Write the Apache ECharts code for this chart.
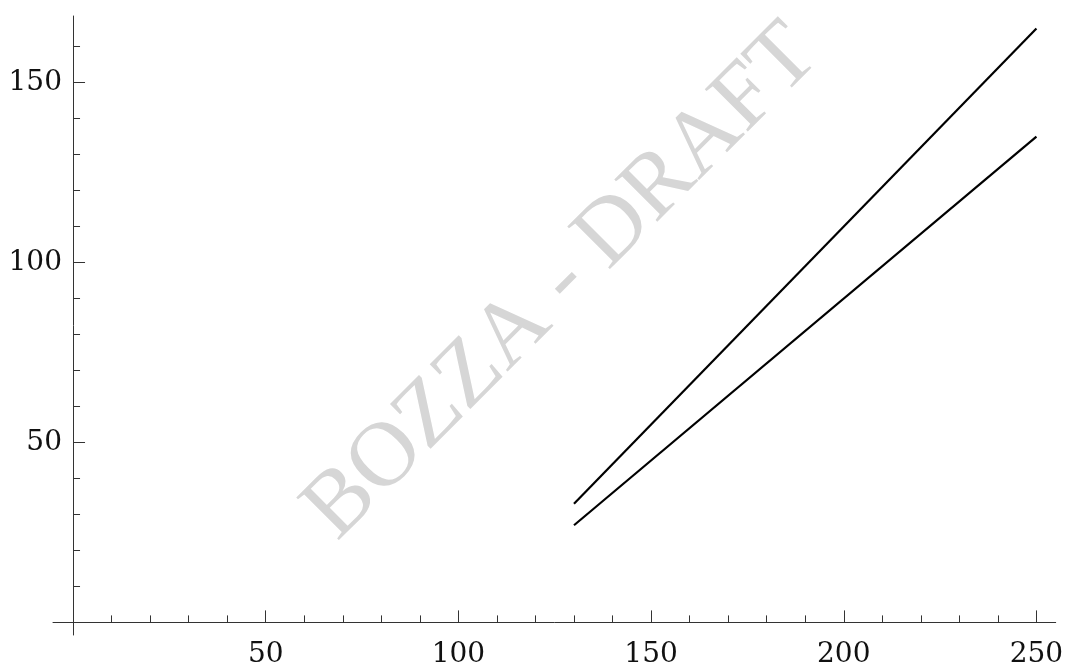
<!DOCTYPE html>
<html>
<head>
<meta charset="utf-8">
<script src="https://cdn.jsdelivr.net/npm/echarts@6/dist/echarts.min.js"></script>
<style>
html, body { margin: 0; padding: 0; background: #fff; }
#chart { width: 1065px; height: 665px; }
</style>
</head>
<body>
<div id="chart"></div>
<script>
// ---- data ----
const xValues = [130, 250];
const upperLine = [33, 165];
const lowerLine = [27, 135];

const xMajorTicks = [0, 50, 100, 150, 200, 250];
const xTickLabels = [50, 100, 150, 200, 250];
const xMinorTicks = [10, 20, 30, 40, 60, 70, 80, 90, 110, 120, 130, 140, 160, 170, 180, 190, 210, 220, 230, 240];

const yMajorTicks = [0, 50, 100, 150];
const yTickLabels = [50, 100, 150];
const yMinorTicks = [10, 20, 30, 40, 60, 70, 80, 90, 110, 120, 130, 140, 160];

const watermarkText = 'BOZZA - DRAFT';

// ---- chart ----
const axisColor = '#333';
const labelFont = { fontFamily: 'DejaVu Serif', fontSize: 28, color: '#111' };

function pairs(xs, ys) { return xs.map((x, i) => [x, ys[i]]); }

const chart = echarts.init(document.getElementById('chart'), null, { renderer: 'canvas' });

const baseX = {
  type: 'value', min: -5.2, max: 255, position: 'bottom',
  axisLine: { show: true, onZero: true, lineStyle: { color: axisColor, width: 1 } },
  splitLine: { show: false }
};
const baseY = {
  type: 'value', min: -3.5, max: 168.5, position: 'left',
  axisLine: { show: true, onZero: true, lineStyle: { color: axisColor, width: 1 } },
  splitLine: { show: false }
};

chart.setOption({
  animation: false,
  backgroundColor: '#fff',
  grid: { left: 53, right: 9.3, top: 16, bottom: 30, containLabel: false, outerBoundsMode: 'none' },
  xAxis: [
    Object.assign({}, baseX, {
      axisTick: { show: true, inside: true, length: 12, customValues: xMajorTicks, lineStyle: { color: axisColor } },
      axisLabel: Object.assign({ show: true, margin: 6, customValues: xTickLabels }, labelFont)
    }),
    Object.assign({}, baseX, {
      axisLine: { show: false, onZero: true },
      axisTick: { show: true, inside: true, length: 7, customValues: xMinorTicks, lineStyle: { color: axisColor } },
      axisLabel: { show: false }
    })
  ],
  yAxis: [
    Object.assign({}, baseY, {
      axisTick: { show: true, inside: true, length: 12, customValues: yMajorTicks, lineStyle: { color: axisColor } },
      axisLabel: Object.assign({ show: true, margin: -9, customValues: yTickLabels }, labelFont)
    }),
    Object.assign({}, baseY, {
      axisLine: { show: false, onZero: true },
      axisTick: { show: true, inside: true, length: 7, customValues: yMinorTicks, lineStyle: { color: axisColor } },
      axisLabel: { show: false }
    })
  ],
  graphic: [{
    type: 'text',
    x: 320, y: 525,
    rotation: Math.PI / 4,
    z: 0,
    silent: true,
    style: {
      text: watermarkText,
      fill: '#d6d6d6',
      font: '92px "Liberation Serif"',
      textAlign: 'left',
      textVerticalAlign: 'middle'
    }
  }],
  series: [
    {
      type: 'line', xAxisIndex: 0, yAxisIndex: 0, z: 5,
      data: pairs(xValues, upperLine), showSymbol: false, symbol: 'none',
      lineStyle: { color: '#000', width: 2.2 }
    },
    {
      type: 'line', xAxisIndex: 0, yAxisIndex: 0, z: 5,
      data: pairs(xValues, lowerLine), showSymbol: false, symbol: 'none',
      lineStyle: { color: '#000', width: 2.2 }
    }
  ]
});
</script>
</body>
</html>
